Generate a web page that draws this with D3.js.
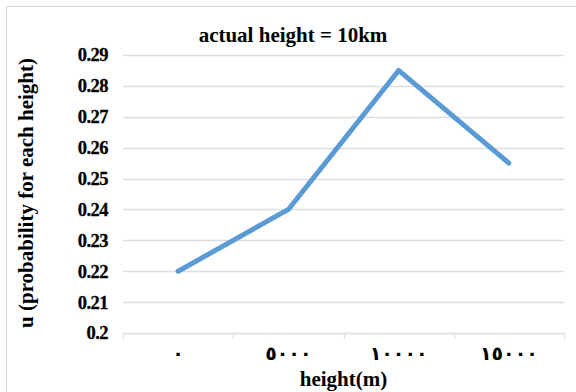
<!DOCTYPE html>
<html>
<head>
<meta charset="utf-8">
<script src="https://cdn.jsdelivr.net/npm/d3@7"></script>
<style>
  html, body { margin: 0; padding: 0; background: #fff; }
  svg { display: block; }
  .serif { font-family: "Liberation Serif", "DejaVu Serif", serif; font-weight: bold; }
</style>
</head>
<body>
<svg id="chart" width="576" height="392"></svg>
<script>
// Probability per candidate height, actual height 10 km
const categories = ["٠", "٥٠٠٠", "١٠٠٠٠", "١٥٠٠٠"];
const values = [0.22, 0.24, 0.285, 0.255];
const yTicks = [0.2, 0.21, 0.22, 0.23, 0.24, 0.25, 0.26, 0.27, 0.28, 0.29];

const svg = d3.select("#chart");
const W = 576, H = 392;
const m = { left: 123, right: 12, top: 55, bottom: 59 };

// outer chart border (right and bottom sides fall outside the view)
svg.append("rect")
  .attr("x", 6.5).attr("y", 6.5)
  .attr("width", 600).attr("height", 420)
  .attr("fill", "#fff").attr("stroke", "#dadde2").attr("stroke-width", 1.2);

const x = d3.scaleBand().domain(categories).range([m.left, W - m.right]);
const y = d3.scaleLinear().domain([0.2, 0.29]).range([H - m.bottom, m.top]);

// horizontal gridlines
svg.append("g").selectAll("line")
  .data(yTicks.slice(1))
  .join("line")
  .attr("x1", m.left).attr("x2", W - m.right)
  .attr("y1", d => Math.round(y(d)) + 0.5).attr("y2", d => Math.round(y(d)) + 0.5)
  .attr("stroke", "#dadee4").attr("stroke-width", 1.3);

// y axis labels
const yAxis = d3.axisLeft(y).tickValues(yTicks).tickSize(0).tickPadding(15)
  .tickFormat(d => String(+d.toFixed(2)));
const gy = svg.append("g").attr("transform", `translate(${m.left},0)`).call(yAxis);
gy.select(".domain").remove();
gy.attr("font-family", null).attr("font-size", null);
gy.selectAll("text")
  .attr("class", "serif")
  .attr("font-size", 18.5).attr("fill", "#000")
  .attr("stroke", "#000").attr("stroke-width", 0.3)
  .attr("letter-spacing", "-0.5");

// x axis with category-boundary ticks
const gx = svg.append("g").attr("transform", `translate(0,${y(0.2)})`);
gx.append("line")
  .attr("x1", m.left).attr("x2", W - m.right)
  .attr("y1", 0.5).attr("y2", 0.5)
  .attr("stroke", "#dadee4").attr("stroke-width", 1.3);
const bounds = categories.map(c => x(c)).concat([x(categories[categories.length - 1]) + x.bandwidth()]);
gx.selectAll("line.tick")
  .data(bounds)
  .join("line").attr("class", "tick")
  .attr("x1", d => Math.round(d) + 0.5).attr("x2", d => Math.round(d) + 0.5)
  .attr("y1", 0).attr("y2", 6)
  .attr("stroke", "#dadee4").attr("stroke-width", 1.3);
gx.selectAll("text")
  .data(categories)
  .join("text")
  .attr("x", d => x(d) + x.bandwidth() / 2)
  .attr("y", 27)
  .attr("text-anchor", "middle")
  .attr("font-family", "DejaVu Sans, sans-serif")
  .attr("font-weight", "bold")
  .attr("font-size", 19)
  .attr("fill", "#000")
  .text(d => d);

// series line
const line = d3.line()
  .x((d, i) => x(categories[i]) + x.bandwidth() / 2)
  .y(d => y(d));
svg.append("path")
  .datum(values)
  .attr("d", line)
  .attr("fill", "none")
  .attr("stroke", "#5b9bd5")
  .attr("stroke-width", 5)
  .attr("stroke-linecap", "round")
  .attr("stroke-linejoin", "round");

// titles
svg.append("text")
  .attr("class", "serif")
  .attr("x", 293).attr("y", 42)
  .attr("text-anchor", "middle")
  .attr("font-size", 21)
  .text("actual height = 10km");

svg.append("text")
  .attr("class", "serif")
  .attr("x", (m.left + W - m.right) / 2).attr("y", 386)
  .attr("text-anchor", "middle")
  .attr("font-size", 21)
  .text("height(m)");

svg.append("text")
  .attr("class", "serif")
  .attr("transform", `translate(33,193) rotate(-90)`)
  .attr("text-anchor", "middle")
  .attr("font-size", 21)
  .text("u (probability for each height)");
</script>
</body>
</html>
